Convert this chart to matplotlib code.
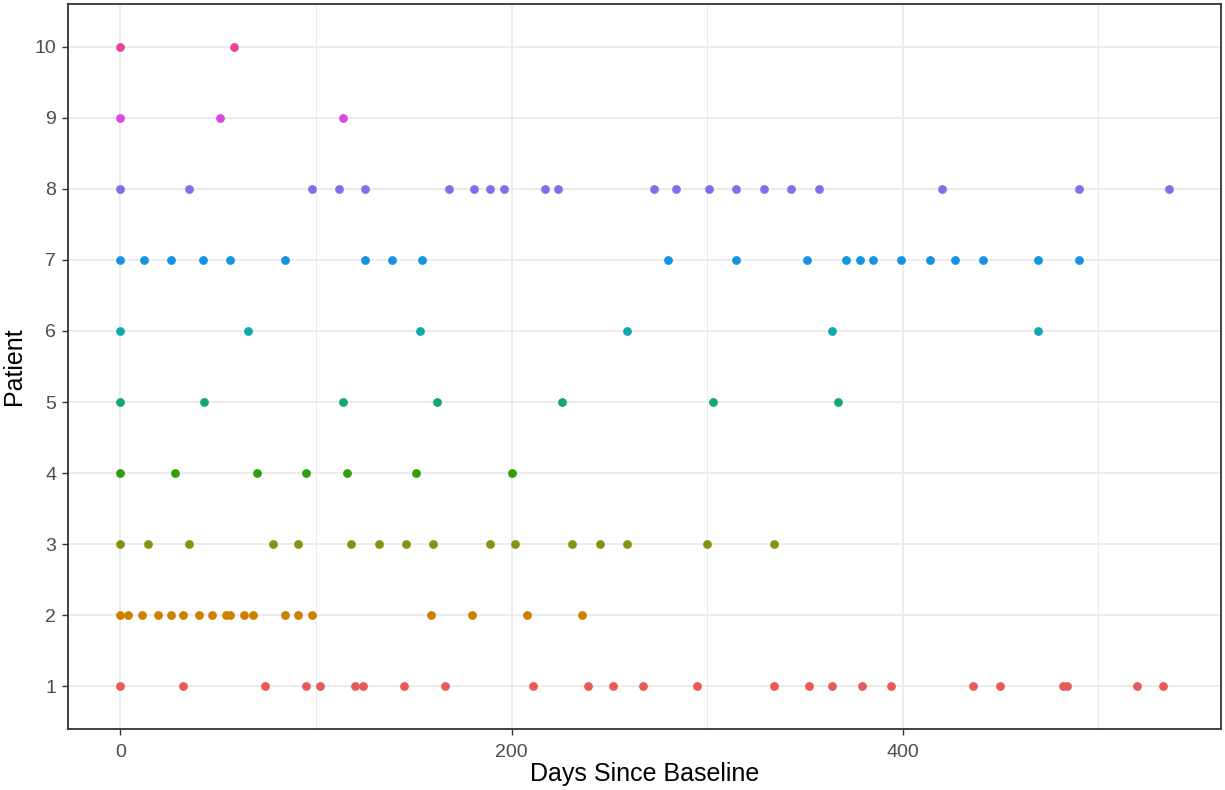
import matplotlib
matplotlib.use("Agg")
import matplotlib.pyplot as plt
from matplotlib.ticker import MultipleLocator

plt.rcParams["font.family"] = ["Liberation Sans", "DejaVu Sans"]

# Visit days since baseline, one list per patient
patients = [1, 2, 3, 4, 5, 6, 7, 8, 9, 10]
days_p1 = [0, 32, 74, 95, 102, 120, 124, 145, 166, 211, 239, 252, 267, 295,
           334, 352, 364, 379, 394, 436, 450, 482, 484, 520, 533]
days_p2 = [0, 4, 11, 19, 26, 32, 40, 47, 54, 56, 63, 68, 84, 91, 98, 159,
           180, 208, 236]
days_p3 = [0, 14, 35, 78, 91, 118, 132, 146, 160, 189, 202, 231, 245, 259,
           300, 334]
days_p4 = [0, 28, 70, 95, 116, 151, 200]
days_p5 = [0, 43, 114, 162, 226, 303, 367]
days_p6 = [0, 65, 153, 259, 364, 469]
days_p7 = [0, 12, 26, 42, 56, 84, 125, 139, 154, 280, 315, 351, 371, 378,
           385, 399, 414, 427, 441, 469, 490]
days_p8 = [0, 35, 98, 112, 125, 168, 181, 189, 196, 217, 224, 273, 284, 301,
           315, 329, 343, 357, 420, 490, 536]
days_p9 = [0, 51, 114]
days_p10 = [0, 58]

visit_days = [days_p1, days_p2, days_p3, days_p4, days_p5,
              days_p6, days_p7, days_p8, days_p9, days_p10]

# hue palette, one colour per patient
colors = ["#E85A5A", "#CC8000", "#8C9010", "#2EA010", "#12A870",
          "#12A8B0", "#1493E0", "#7F6FEA", "#D64AE0", "#E8449A"]

W, H = 1225, 790
fig = plt.figure(figsize=(W / 100, H / 100), dpi=100)
ax = fig.add_axes([68 / W, 1 - 729 / H, (1221 - 68) / W, (729 - 4) / H])

for pid, days, col in zip(patients, visit_days, colors):
    ax.scatter(days, [pid] * len(days), s=40, color=col, linewidths=0,
               zorder=3)

# continuous x with 5% expansion, discrete y with 0.6 padding
all_days = [d for ds in visit_days for d in ds]
lo, hi = min(all_days), max(all_days)
span = hi - lo
ax.set_xlim(lo - 0.05 * span, hi + 0.05 * span)
ax.set_ylim(min(patients) - 0.6, max(patients) + 0.6)

ax.xaxis.set_major_locator(MultipleLocator(200))
ax.xaxis.set_minor_locator(MultipleLocator(100))
ax.set_yticks(patients)
ax.set_yticklabels([str(p) for p in patients])

ax.grid(which="major", color="#EBEBEB", linewidth=1.3, zorder=0)
ax.grid(which="minor", axis="x", color="#EBEBEB", linewidth=0.7, zorder=0)
ax.set_axisbelow(True)

for sp in ax.spines.values():
    sp.set_color("#333333")
    sp.set_linewidth(1.3)

ax.tick_params(which="major", length=4.5, width=1.0, color="#333333",
               labelsize=14, labelcolor="#4D4D4D", pad=4)
ax.tick_params(axis="x", which="major", pad=6)
ax.tick_params(which="minor", length=0)

ax.set_xlabel("Days Since Baseline", fontsize=18, color="black", labelpad=1)
ax.set_ylabel("Patient", fontsize=18, color="black", labelpad=6)

fig.savefig("out.png", dpi=100, facecolor="white")
